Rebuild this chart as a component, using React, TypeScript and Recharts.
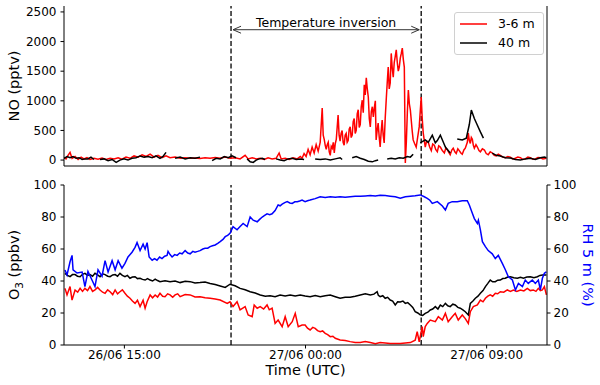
import React from 'react';
import { LineChart, Line, XAxis, YAxis, ReferenceLine, Legend } from 'recharts';

// Hours since 26/06 12:00 UTC
const timeTicks = [3, 12, 21];
const timeTickLabels = ['26/06 15:00', '27/06 00:00', '27/06 09:00'];
const noTicks = [0, 500, 1000, 1500, 2000, 2500];
const pctTicks = [0, 20, 40, 60, 80, 100];
const inversionBounds = [8.3, 17.75];
const inversionLabel = 'Temperature inversion';
const noSeriesNames = ['3-6 m', '40 m'];
const noSeriesColors = ['#ff0000', '#000000'];

// NO (pptv) at 3-6 m: [hour, value]
const noShallow: [number, number | null][] = [
  [0, 40], [0.1, 20], [0.2, 80], [0.3, 130], [0.4, 30], [0.55, 60], [0.7, 10], [0.85, 50], [0.99, 20], [1.14, 40],
  [1.29, 10], [1.49, 30], [1.69, 15], [1.89, 35], [2.09, 10], [2.29, 30], [2.49, 20], [2.69, 40], [2.88, 15], [3.08, 50],
  [3.28, 30], [3.48, 70], [3.68, 50], [3.88, 90], [4.08, 60], [4.28, 100], [4.48, 50], [4.67, 80], [4.87, 40], [5.07, 70],
  [5.27, 40], [5.52, 50], [5.77, 30], [6.02, 40], [6.27, 30], [6.51, 35], [6.76, 25], [7.01, 40], [7.26, 30], [7.51, 45],
  [7.76, 30], [8.01, 50], [8.25, 30], [8.5, 40], [8.75, 20], [9.0, 80], [9.15, 20], [9.35, 40], [9.55, 20], [9.75, 30],
  [9.95, 10], [10.14, 40], [10.34, 20], [10.54, 30], [10.69, 120], [10.79, 20], [10.99, 30], [11.19, 10], [11.39, 40], [11.59, 20],
  [11.74, 60], [11.83, 30], [11.93, 110], [12.03, 60], [12.13, 180], [12.23, 90], [12.33, 220], [12.43, 120], [12.53, 260], [12.63, 150],
  [12.73, 300], [12.83, 880], [12.88, 420], [12.93, 350], [12.98, 250], [13.03, 180], [13.08, 260], [13.13, 300], [13.18, 140], [13.23, 80],
  [13.28, 230], [13.33, 200], [13.38, 300], [13.43, 120], [13.48, 280], [13.53, 350], [13.62, 760], [13.67, 420],
  [13.72, 320], [13.77, 450], [13.82, 500], [13.87, 300], [13.92, 250], [13.97, 420], [14.02, 450], [14.07, 300], [14.12, 330], [14.17, 520],
  [14.22, 560], [14.27, 380], [14.32, 420], [14.37, 650], [14.42, 700], [14.47, 450], [14.52, 500], [14.57, 780], [14.62, 850], [14.67, 550],
  [14.72, 600], [14.77, 900], [14.82, 1010], [14.87, 800], [14.92, 1270], [14.97, 1100], [15.02, 1390], [15.07, 1200], [15.12, 1065], [15.17, 700],
  [15.22, 560], [15.27, 820], [15.32, 900], [15.37, 730], [15.42, 880], [15.47, 1000], [15.51, 340], [15.56, 500],
  [15.61, 625], [15.66, 400], [15.71, 220], [15.76, 480], [15.81, 675], [15.86, 420], [15.91, 290], [15.96, 700], [16.01, 1010], [16.06, 1300],
  [16.11, 1570], [16.16, 1200], [16.21, 1300], [16.26, 1800], [16.31, 1550], [16.36, 1400], [16.41, 1650], [16.46, 1750],
  [16.51, 1860], [16.56, 1650], [16.61, 1500], [16.66, 1570], [16.71, 1720], [16.76, 1800], [16.81, 1890], [16.86, 1700], [16.91, 1570], [16.96, -50],
  [17.01, 300], [17.06, 800], [17.11, 1180], [17.16, 950], [17.21, 845],
  [17.3, 500], [17.35, 340], [17.42, 280], [17.5, 220], [17.58, 400], [17.65, 560], [17.75, 1065], [17.8, 700], [17.85, 455], [17.95, 220], [18.02, 320], [18.1, 300], [18.17, 220], [18.25, 160], [18.32, 270], [18.4, 250],
  [18.47, 180], [18.55, 140], [18.62, 240], [18.7, 220], [18.8, 160], [18.9, 120], [18.97, 200], [19.04, 180], [19.12, 130], [19.19, 90], [19.27, 170], [19.34, 200], [19.42, 140], [19.49, 110], [19.57, 190], [19.64, 160], [19.72, 120], [19.79, 100], [19.87, 170], [19.94, 200],
  [20.04, 300], [20.09, 455], [20.14, 330], [20.19, 280], [20.24, 380], [20.29, 350], [20.34, 250], [20.39, 200], [20.47, 260], [20.54, 220], [20.62, 160], [20.69, 140], [20.79, 190], [20.89, 170], [20.98, 110], [21.08, 90], [21.18, 140], [21.28, 120],
  [21.38, 80], [21.48, 70], [21.58, 100], [21.68, 80], [21.8, 50], [21.93, 40], [22.05, 60], [22.18, 50], [22.3, 20], [22.43, 30], [22.55, 50], [22.68, 40], [22.8, 10], [22.92, 20], [23.05, 50], [23.17, 40], [23.3, 15], [23.42, 20], [23.55, 45], [23.67, 40], [23.8, 20], [23.97, 30],
];

// NO (pptv) at 40 m: [hour, value], null = gap
const noTall: [number, number | null][] = [
  [0, 30], [0.15, 60], [0.3, 40], [0.45, 60], [0.6, 30], [0.75, 40], [0.9, 10], [1.04, 20], [1.19, 20], [1.34, 50], [1.49, 10], [1.6, null],
  [1.79, 10], [1.99, 20], [2.19, -10], [2.39, 10], [2.59, -40], [2.78, 0], [2.98, 20], [3.18, 0], [3.38, 30], [3.58, 40], [3.78, 70],
  [3.98, 50], [4.18, 60], [4.38, 40], [4.57, 70], [4.77, 30], [4.92, 60], [5.07, 130], [5.3, null],
  [5.52, 30], [5.77, 50], [6.02, 20], [6.27, 40], [6.51, 30], [6.76, 50], [6.9, null],
  [7.36, -10], [7.56, 30], [7.76, 20], [7.96, 60], [8.16, 40], [8.35, 70], [8.55, 40], [8.6, null],
  [9.1, 20], [9.25, -30], [9.4, -40], [9.55, 0], [9.7, 20], [9.85, 30], [9.99, 10], [10.2, null],
  [10.54, 20], [10.74, 0], [10.94, -10], [11.14, 20], [11.34, 30], [11.54, 10], [11.74, 20], [11.93, 10], [12.2, null],
  [12.48, 20], [12.73, 10], [12.98, 20], [13.23, 0], [13.48, 20], [13.72, 40], [13.82, 10], [14.0, null],
  [14.32, 40], [14.52, 60], [14.72, 30], [14.92, 10], [15.12, -20], [15.32, -30], [15.47, -10], [15.61, 0], [15.8, null],
  [16.06, 20], [16.26, 30], [16.46, 20], [16.66, 40], [16.86, 30], [17.06, 60], [17.21, 50], [17.35, 100], [17.5, null],
  [17.7, 290], [17.95, 340], [18.1, 300], [18.3, 420], [18.45, 290], [18.55, 330], [18.7, 420], [18.85, 300], [18.95, 220], [19.19, 118], [19.35, null],
  [19.54, 355], [19.79, 340], [19.99, 370], [20.14, 600], [20.24, 845], [20.39, 700], [20.49, 625], [20.69, 475], [20.84, 370], [21.0, null],
  [21.28, 118], [21.48, 80], [21.68, 68], [21.93, 40], [22.18, 34], [22.43, 10], [22.68, 0], [22.92, 20], [23.17, 30], [23.42, 10], [23.67, 40], [23.87, 50], [23.97, 40],
];

// O3 (ppbv) at 3-6 m
const o3Shallow: [number, number][] = [
  [0.05, 35.4], [0.15, 31.3], [0.3, 36.5], [0.4, 28.1], [0.55, 34.4], [0.68, 33], [0.8, 35.4], [0.92, 33.5], [1.04, 35.4], [1.17, 34], [1.29, 36.5], [1.42, 33.5], [1.54, 34.4], [1.67, 36], [1.79, 34.4],
  [1.92, 33], [2.04, 32.3], [2.17, 34.5], [2.29, 33.3], [2.42, 31.5], [2.54, 34.4], [2.66, 32], [2.78, 33.3], [2.9, 34.5], [3.03, 32.3], [3.15, 30.5], [3.28, 29.2], [3.4, 27.5], [3.53, 26], [3.65, 28], [3.78, 24], [3.93, 28], [4.03, 23],
  [4.13, 27], [4.28, 31.3], [4.4, 29.5], [4.53, 31.3], [4.65, 30], [4.77, 32.3], [4.9, 30.5], [5.02, 30.2], [5.15, 32], [5.27, 31.3], [5.4, 29.8], [5.52, 31.3], [5.65, 32], [5.77, 30.2], [6.02, 31.5], [6.27, 31.3], [6.51, 30], [6.76, 30.2],
  [7.01, 29.5], [7.26, 29.2], [7.51, 28.8], [7.76, 28.1], [8.11, 26], [8.25, 27], [8.4, 24], [8.6, 27], [8.75, 21.9], [9.0, 24], [9.15, 18.8], [9.35, 17.7],
  [9.45, 25], [9.6, 23], [9.75, 24], [9.92, 22.5], [10.09, 25], [10.2, 22], [10.34, 23], [10.49, 13.5], [10.64, 15.6], [10.84, 11.5], [10.99, 17.7], [11.14, 11.5], [11.34, 14.6],
  [11.49, 19.8], [11.64, 11.5], [11.83, 12.5], [11.98, 12.5], [12.1, 10.5], [12.23, 9.4], [12.36, 11], [12.48, 10.4], [12.6, 9], [12.73, 8.3], [12.85, 8.8], [12.98, 7.3], [13.1, 6.5], [13.23, 5.2], [13.36, 5.5], [13.48, 4.2],
  [13.72, 3.1], [13.97, 2.8], [14.22, 2.1], [14.47, 1.5], [14.72, 1.6], [14.97, 2.2], [15.22, 1.5], [15.47, 0.8], [15.71, 1.5], [16.21, 1], [16.71, 1], [17.21, 1.5], [17.45, 3], [17.55, 8.3],
  [17.65, 2], [17.8, 11.5], [17.85, 5.2], [17.95, 11.5], [18.05, 13.5], [18.2, 15.6], [18.45, 14.6], [18.6, 17.7], [18.8, 15.6], [18.95, 19.8],
  [19.09, 14.6], [19.29, 17.7], [19.44, 19.8], [19.59, 15.6], [19.79, 18.8], [19.94, 16.5], [20.09, 13.5], [20.19, 20.8], [20.34, 24], [20.54, 25],
  [20.69, 28.1], [20.82, 27], [20.94, 29.2], [21.06, 30.5], [21.18, 31.3], [21.3, 30.5], [21.43, 32.3], [21.55, 32], [21.68, 33.3], [21.85, 33], [22.03, 34.4], [22.18, 33.5], [22.33, 34.4], [22.5, 33.5], [22.68, 34.4], [22.85, 33.8], [23.02, 35.4], [23.17, 34], [23.32, 34.4],
  [23.45, 33.5], [23.57, 35.4], [23.67, 34], [23.77, 34.4], [23.87, 36.5], [23.97, 31.3],
];

// O3 (ppbv) at 40 m
const o3Tall: [number, number][] = [
  [0.05, 44.8], [0.17, 43.5], [0.3, 42.7], [0.42, 44], [0.55, 44], [0.67, 43], [0.8, 42.7], [0.92, 44.2], [1.04, 44.8], [1.17, 43.5], [1.29, 44], [1.42, 43], [1.54, 44.8], [1.67, 43.8], [1.79, 42.7], [1.92, 44.5], [2.04, 44], [2.17, 43], [2.29, 42.7],
  [2.42, 43.8], [2.54, 44], [2.66, 43], [2.78, 44.8], [2.9, 43.5], [3.03, 42.7], [3.15, 43.5], [3.28, 41.7], [3.4, 42.5], [3.53, 42.7], [3.65, 41.5], [3.78, 41.7], [3.9, 41], [4.03, 40.6], [4.15, 41.5], [4.28, 40.6], [4.4, 40], [4.53, 41.2], [4.65, 40.3], [4.77, 39.6],
  [5.02, 40.2], [5.27, 39.6], [5.52, 40], [5.77, 39], [6.02, 39.8], [6.27, 39.6], [6.51, 38.8], [6.76, 39], [7.01, 39.3], [7.26, 38.5], [7.51, 37.8], [7.76, 36.9], [8.01, 36], [8.25, 38], [8.5, 37], [8.75, 35.4],
  [9.0, 34.5], [9.25, 33.3], [9.5, 32.5], [9.75, 31.3], [10.0, 30.5], [10.24, 30.8], [10.49, 30.2], [10.74, 31.3], [10.99, 30.7], [11.24, 31.3], [11.49, 30.6], [11.74, 31.3], [11.98, 30.6], [12.23, 30.2], [12.48, 30.9], [12.73, 30.2], [12.98, 30.8], [13.23, 31.3], [13.48, 30.2], [13.72, 29.2],
  [13.97, 29.9], [14.22, 29.8], [14.47, 30.5], [14.72, 31.3], [14.97, 32], [15.22, 31.3], [15.4, 31.8], [15.56, 33.3], [15.62, 31], [15.71, 30.2], [15.84, 30.8], [15.96, 29.2], [16.08, 29.8], [16.21, 28.1], [16.33, 27.5], [16.46, 25], [16.58, 27], [16.71, 26.9], [16.84, 27.5], [16.96, 26],
  [17.08, 26.5], [17.21, 25], [17.33, 23.5], [17.45, 20.8], [17.58, 20], [17.7, 18.8], [17.82, 18.5], [17.95, 19.8], [18.08, 20.5], [18.2, 21.9], [18.32, 22.5], [18.45, 24], [18.58, 22.5], [18.7, 25], [18.82, 24], [18.95, 26], [19.07, 24.5], [19.19, 24], [19.32, 25.5], [19.44, 25],
  [19.57, 23.5], [19.69, 23], [19.82, 22], [19.94, 20.8], [20.09, 18.8], [20.19, 26], [20.32, 27.5], [20.44, 29.2], [20.57, 30.5], [20.69, 32.3], [20.82, 34], [20.94, 36.5], [21.06, 38.5], [21.18, 40.6], [21.3, 39.5], [21.43, 39.6], [21.55, 40.5], [21.68, 40.6], [21.8, 41.5],
  [21.93, 41.7], [22.05, 42.5], [22.18, 42.7], [22.35, 42], [22.53, 41.7], [22.68, 42.3], [22.83, 41.7], [23.0, 42.5], [23.17, 42.7], [23.35, 42], [23.52, 42.7], [23.65, 43.5], [23.77, 43.8], [23.97, 43.8],
];

// RH (%) at 5 m
const rh5m: [number, number][] = [
  [0.05, 46.9], [0.15, 43.8], [0.3, 52], [0.4, 56], [0.45, 47], [0.65, 45], [0.9, 45.6], [1.04, 36.5], [1.19, 46], [1.39, 40.6],
  [1.54, 36.5], [1.69, 47], [1.89, 43], [2.04, 52.7], [2.19, 45.6], [2.39, 52.7], [2.54, 47], [2.69, 52.7], [2.88, 48], [3.03, 51],
  [3.18, 55], [3.38, 58], [3.53, 61], [3.63, 64], [3.78, 59], [3.93, 63], [4.03, 60], [4.13, 64], [4.23, 55], [4.38, 53],
  [4.5, 54], [4.62, 53], [4.75, 55], [4.87, 54], [5.0, 55.5], [5.12, 56], [5.17, 58.5], [5.27, 56.5], [5.37, 55], [5.5, 56.5], [5.62, 56], [5.75, 57.5], [5.87, 57], [6.02, 59], [6.15, 57.5], [6.27, 57], [6.4, 58.5], [6.51, 58],
  [6.64, 58.5], [6.76, 59], [6.9, 60], [7.01, 60.4], [7.14, 60.5], [7.26, 61.5], [7.38, 62], [7.51, 62.5], [7.64, 63.5], [7.76, 64.6], [7.9, 66], [8.01, 67.7], [8.13, 68.5], [8.25, 69.8], [8.4, 74], [8.6, 72], [8.75, 74],
  [8.9, 76], [9.1, 74], [9.25, 80], [9.4, 78], [9.6, 77], [9.72, 78.5], [9.85, 80], [9.97, 81], [10.09, 82], [10.22, 81.5], [10.34, 82], [10.49, 84], [10.64, 87.5],
  [10.74, 87], [10.84, 88], [10.97, 89], [11.09, 89.6], [11.22, 88.8], [11.34, 88.5], [11.47, 89.5], [11.59, 89.6], [11.71, 90], [11.83, 90.6], [11.98, 89.6], [12.1, 90.2], [12.23, 90.6], [12.48, 91.5], [12.73, 92.7], [12.98, 92.2], [13.23, 92.7], [13.48, 92.3], [13.72, 92.7],
  [13.97, 92.4], [14.22, 92.7], [14.47, 92.9], [14.72, 93], [14.97, 93.2], [15.22, 93.4], [15.47, 93.2], [15.71, 93.6], [15.96, 93.4], [16.21, 93], [16.46, 92.6], [16.71, 91.7], [16.96, 92.6], [17.21, 93], [17.45, 93.3], [17.7, 93.8], [17.88, 92.8], [18.05, 91.7], [18.18, 90.5], [18.3, 88.5],
  [18.55, 89.6], [18.8, 86.9], [18.95, 84.4], [19.09, 88.5], [19.29, 89.6], [19.54, 89.6], [19.79, 90.2], [20.04, 90.2], [20.14, 87.5], [20.29, 82.3],
  [20.39, 79], [20.54, 76], [20.59, 78], [20.69, 71.9], [20.79, 64.6], [20.94, 61.5], [21.08, 59], [21.28, 57], [21.43, 54], [21.58, 56],
  [21.78, 51], [21.93, 47], [22.08, 42.7], [22.28, 40.6], [22.43, 34.4], [22.58, 38.5], [22.78, 36.5], [22.92, 40.6], [23.07, 38.5], [23.27, 40.6],
  [23.42, 38.5], [23.57, 40.6], [23.67, 34.4], [23.77, 41.7], [23.87, 44.8], [23.97, 45.8],
];

const toRows = (pairs: [number, number | null][]) => pairs.map(([t, v]) => ({ t, v }));

const FONT = "'DejaVu Sans', sans-serif";
const AXIS = '#000';
const TICK_STYLE = { fontSize: 12, fill: '#000', fontFamily: FONT };

const LegendBox = (props: any) => {
  const payload = props.payload || [];
  return (
    <div
      style={{
        border: '1px solid #d0d0d0',
        borderRadius: 3,
        background: 'rgba(255,255,255,0.85)',
        padding: '1px 8px 2px 5px',
        fontFamily: FONT,
        fontSize: 12.5,
        color: '#000',
        lineHeight: '19px',
      }}
    >
      {payload.map((p: any, i: number) => {
        const color = noSeriesColors[i] ?? p.color;
        return (
          <div key={String(p.value)} style={{ display: 'flex', alignItems: 'center', height: 19 }}>
            <svg width={27} height={4} style={{ marginRight: 11, display: 'block' }}>
              <line x1={0} y1={2} x2={27} y2={2} stroke={color} strokeWidth={1.5} />
            </svg>
            <span>{p.value}</span>
          </div>
        );
      })}
    </div>
  );
};

const ArrowShape = (props: any) => {
  const { x1, y1, x2 } = props;
  const a = x1 + 2;
  const b = x2 - 2;
  const y = y1;
  return (
    <g>
      <line x1={a} y1={y} x2={b} y2={y} stroke="#333" strokeWidth={1} />
      <polyline points={`${a + 8},${y - 3.5} ${a},${y} ${a + 8},${y + 3.5}`} fill="none" stroke="#333" strokeWidth={1} />
      <polyline points={`${b - 8},${y - 3.5} ${b},${y} ${b - 8},${y + 3.5}`} fill="none" stroke="#333" strokeWidth={1} />
      <text x={(x1 + x2) / 2} y={y - 2.5} textAnchor="middle" fontFamily={FONT} fontSize={12.5} fill="#000">
        {inversionLabel}
      </text>
    </g>
  );
};

const leftLabel = (content: React.ReactNode) => (props: any) => {
  const vb = props.viewBox;
  const cx = vb.x + 13.5;
  const cy = vb.y + vb.height / 2;
  return (
    <text x={cx} y={cy} dy="0.35em" textAnchor="middle" transform={`rotate(-90, ${cx}, ${cy})`} fontFamily={FONT} fontSize={14.5} fill="#000">
      {content}
    </text>
  );
};

const rightLabel = (props: any) => {
  const vb = props.viewBox;
  const cx = vb.x + 41.5;
  const cy = vb.y + vb.height / 2;
  return (
    <text x={cx} y={cy} dy="0.35em" textAnchor="middle" transform={`rotate(90, ${cx}, ${cy})`} fontFamily={FONT} fontSize={14.5} fill="#0000ff">
      RH 5 m (%)
    </text>
  );
};

const timeLabel = (props: any) => {
  const vb = props.viewBox;
  return (
    <text x={vb.x + vb.width / 2} y={vb.y + 30} textAnchor="middle" fontFamily={FONT} fontSize={14.5} fill="#000">
      Time (UTC)
    </text>
  );
};

const fmtTime = (v: number) => timeTickLabels[timeTicks.indexOf(v)] ?? '';

export default function App() {
  const noShallowRows = toRows(noShallow);
  const noTallRows = toRows(noTall);
  const o3ShallowRows = toRows(o3Shallow);
  const o3TallRows = toRows(o3Tall);
  const rhRows = toRows(rh5m);

  return (
    <div style={{ position: 'absolute', left: 0, top: 0, width: 600, height: 385, background: '#fff', fontFamily: FONT }}>
      <div style={{ position: 'absolute', left: 0, top: 0 }}>
        <LineChart width={600} height={175} margin={{ top: 6, right: 0, bottom: 0, left: 0 }}>
          <XAxis xAxisId="b" dataKey="t" type="number" domain={[0, 24]} ticks={timeTicks} tick={false} tickSize={3.5} height={9} stroke={AXIS} allowDataOverflow />
          <XAxis xAxisId="t" orientation="top" dataKey="t" type="number" domain={[0, 24]} ticks={[]} tick={false} tickLine={false} height={0} stroke={AXIS} allowDataOverflow />
          <YAxis
            yAxisId="l"
            type="number"
            domain={[-100, 2600]}
            ticks={noTicks}
            width={64}
            tickSize={3.5}
            tickMargin={4}
            tick={TICK_STYLE}
            stroke={AXIS}
            allowDataOverflow
            label={leftLabel('NO (pptv)')}
          />
          <YAxis yAxisId="r" orientation="right" type="number" domain={[-100, 2600]} ticks={[]} tick={false} tickLine={false} width={53} stroke={AXIS} allowDataOverflow />
          {inversionBounds.map((b) => (
            <ReferenceLine key={b} xAxisId="b" yAxisId="l" x={b} stroke="#222" strokeWidth={1.5} strokeDasharray="5 2.5" />
          ))}
          <ReferenceLine
            xAxisId="b"
            yAxisId="l"
            segment={[{ x: inversionBounds[0], y: 2200 }, { x: inversionBounds[1], y: 2200 }]}
            shape={ArrowShape}
          />
          <Line xAxisId="b" yAxisId="l" data={noShallowRows} dataKey="v" name={noSeriesNames[0]} stroke={noSeriesColors[0]} strokeWidth={1.5} dot={false} isAnimationActive={false} />
          <Line xAxisId="b" yAxisId="l" data={noTallRows} dataKey="v" name={noSeriesNames[1]} stroke={noSeriesColors[1]} strokeWidth={1.5} dot={false} isAnimationActive={false} />
          <Legend
            layout="horizontal"
            verticalAlign="middle"
            align="center"
            wrapperStyle={{ position: 'absolute', left: 454, top: 12, width: 'auto', height: 'auto' }}
            content={<LegendBox />}
          />
        </LineChart>
      </div>
      <div style={{ position: 'absolute', left: 0, top: 175 }}>
        <LineChart width={600} height={210} margin={{ top: 10, right: 0, bottom: 0, left: 0 }}>
          <XAxis
            xAxisId="b"
            dataKey="t"
            type="number"
            domain={[0, 24]}
            ticks={timeTicks}
            tickFormatter={fmtTime}
            tick={TICK_STYLE}
            tickSize={3.5}
            tickMargin={1.5}
            height={40}
            stroke={AXIS}
            allowDataOverflow
            label={timeLabel}
          />
          <XAxis xAxisId="t" orientation="top" dataKey="t" type="number" domain={[0, 24]} ticks={[]} tick={false} tickLine={false} height={0} stroke={AXIS} allowDataOverflow />
          <YAxis
            yAxisId="l"
            type="number"
            domain={[0, 100]}
            ticks={pctTicks}
            width={64}
            tickSize={3.5}
            tickMargin={4}
            tick={TICK_STYLE}
            stroke={AXIS}
            allowDataOverflow
            label={leftLabel(
              <>
                <tspan>O</tspan>
                <tspan dy="4" fontSize={10.5}>3</tspan>
                <tspan dy="-4"> (ppbv)</tspan>
              </>
            )}
          />
          <YAxis
            yAxisId="r"
            orientation="right"
            type="number"
            domain={[0, 100]}
            ticks={pctTicks}
            width={53}
            tickSize={3.5}
            tickMargin={3}
            tick={TICK_STYLE}
            stroke={AXIS}
            allowDataOverflow
            label={rightLabel}
          />
          {inversionBounds.map((b) => (
            <ReferenceLine key={b} xAxisId="b" yAxisId="l" x={b} stroke="#222" strokeWidth={1.5} strokeDasharray="5 2.5" />
          ))}
          <Line xAxisId="b" yAxisId="l" data={o3ShallowRows} dataKey="v" stroke="#ff0000" strokeWidth={1.5} dot={false} isAnimationActive={false} />
          <Line xAxisId="b" yAxisId="l" data={o3TallRows} dataKey="v" stroke="#000000" strokeWidth={1.5} dot={false} isAnimationActive={false} />
          <Line xAxisId="b" yAxisId="r" data={rhRows} dataKey="v" stroke="#0000ff" strokeWidth={1.5} dot={false} isAnimationActive={false} />
        </LineChart>
      </div>
    </div>
  );
}
